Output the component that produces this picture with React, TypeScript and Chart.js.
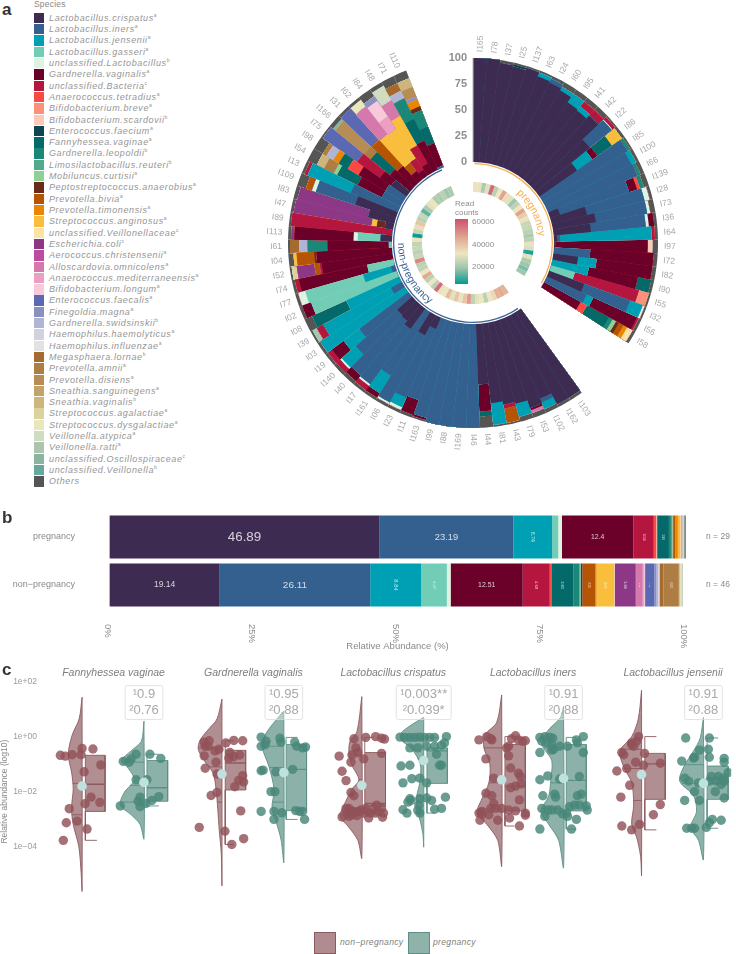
import React, { useEffect, useRef } from "react";
import { Chart, registerables } from "chart.js";

Chart.register(...registerables);

const FONT = '"Liberation Sans", Arial, sans-serif';

// ---------- species ----------
const speciesNames = [
  "Lactobacillus.crispatus", "Lactobacillus.iners", "Lactobacillus.jensenii", "Lactobacillus.gasseri", "unclassified.Lactobacillus",
  "Gardnerella.vaginalis", "unclassified.Bacteria", "Anaerococcus.tetradius", "Bifidobacterium.breve", "Bifidobacterium.scardovii",
  "Enterococcus.faecium", "Fannyhessea.vaginae", "Gardnerella.leopoldii", "Limosilactobacillus.reuteri", "Mobiluncus.curtisii",
  "Peptostreptococcus.anaerobius", "Prevotella.bivia", "Prevotella.timonensis", "Streptococcus.anginosus", "unclassified.Veillonellaceae",
  "Escherichia.coli", "Aerococcus.christensenii", "Alloscardovia.omnicolens", "Anaerococcus.mediterraneensis", "Bifidobacterium.longum",
  "Enterococcus.faecalis", "Finegoldia.magna", "Gardnerella.swidsinskii", "Haemophilus.haemolyticus", "Haemophilus.influenzae",
  "Megasphaera.lornae", "Prevotella.amnii", "Prevotella.disiens", "Sneathia.sanguinegens", "Sneathia.vaginalis",
  "Streptococcus.agalactiae", "Streptococcus.dysgalactiae", "Veillonella.atypica", "Veillonella.ratti", "unclassified.Oscillospiraceae",
  "unclassified.Veillonella", "Others",
];
const speciesMarks = ["a", "a", "a", "a", "b", "a", "c", "a", "a", "b", "a", "a", "b", "b", "a", "a", "a", "a", "a", "c", "c", "a", "a", "a", "a", "a", "a", "b", "a", "a", "b", "a", "a", "a", "b", "a", "a", "a", "a", "c", "b", ""];
const speciesColors = [
  "#3d2b52", "#34608f", "#00a0b4", "#72cdb6", "#dff3e3", "#6b0029", "#b5163f", "#f84a42", "#fb917b", "#fdc9b8",
  "#0f4452", "#036969", "#1a8778", "#51ab8a", "#8fd094", "#6a2a1a", "#b55503", "#ea8505", "#f9bf3c", "#fde4a6",
  "#8c3886", "#bc4c9f", "#d579ad", "#ed9fc2", "#f6cadb", "#5a69b1", "#8b90c0", "#b1b4d4", "#d1d2e0", "#e2e2e4",
  "#a46a2e", "#ae7d43", "#b88c55", "#c2a36a", "#cdb67c", "#ddd29e", "#e9e8bb", "#cfdcc1", "#adc5ae", "#8ab49f",
  "#64a99c", "#555555",
];

// ---------- panel a ----------
const pregnancySamples = ["I165", "I78", "I37", "I25", "I137", "I63", "I24", "I60", "I95", "I41", "I42", "I22", "I86", "I85", "I100", "I66", "I139", "I28", "I73", "I36", "I64", "I97", "I72", "I82", "I90", "I55", "I32", "I56", "I58"];
const nonPregnancySamples = ["I103", "I162", "I102", "I53", "I79", "I43", "I81", "I44", "I46", "I169", "I88", "I99", "I163", "I11", "I23", "I06", "I161", "I17", "I40", "I140", "I19", "I03", "I39", "I08", "I02", "I77", "I74", "I52", "I04", "I61", "I113", "I89", "I47", "I83", "I109", "I13", "I54", "I98", "I75", "I166", "I31", "I62", "I84", "I48", "I71", "I110"];
// each sample: species index, percentage, species index, percentage ...
const pregnancyStacks = [
  [0, 100], [0, 100], [0, 97, 41, 3], [0, 96, 10, 2, 41, 2], [0, 98, 41, 2], [0, 94, 2, 4, 41, 2], [0, 93, 1, 4, 41, 3],
  [0, 91, 2, 4, 41, 5], [0, 85, 2, 10, 41, 5], [0, 84, 2, 5, 6, 6, 41, 5], [0, 88, 6, 7, 41, 5], [0, 67, 1, 27, 4, 1, 6, 3, 41, 2],
  [0, 44, 2, 18, 5, 6, 11, 17, 18, 12, 41, 3], [1, 95, 12, 3, 41, 2], [1, 92, 2, 5, 41, 3], [1, 93, 12, 3, 41, 4],
  [0, 10, 1, 70, 5, 8, 7, 3, 12, 4, 41, 5], [0, 35, 1, 57, 4, 5, 41, 3], [0, 42, 1, 50, 4, 3, 41, 5], [0, 36, 1, 53, 4, 3, 5, 5, 41, 3],
  [0, 3, 1, 3, 2, 88, 6, 3, 41, 3], [0, 1, 5, 89, 9, 5, 41, 5], [1, 35, 5, 61, 41, 4], [0, 24, 2, 18, 5, 54, 41, 4],
  [2, 36, 5, 48, 11, 13, 41, 3], [3, 24, 6, 64, 8, 10, 41, 2], [0, 36, 1, 47, 2, 13, 4, 2, 41, 2], [1, 42, 2, 7, 5, 46, 6, 2, 41, 3],
  [5, 40, 7, 7, 11, 24, 12, 4, 14, 4, 15, 3, 16, 5, 17, 4, 19, 6, 41, 3],
];
const nonPregnancyStacks = [
  [0, 97, 41, 3], [0, 97, 41, 3], [0, 85, 1, 4, 2, 7, 41, 4], [0, 90, 5, 2, 22, 3, 41, 5], [0, 82, 2, 13, 41, 5], [0, 80, 6, 4, 16, 14, 41, 2],
  [0, 77, 2, 21, 41, 2], [0, 58, 5, 26, 11, 5, 41, 11], [1, 100], [1, 100], [1, 100], [1, 100], [1, 96, 5, 2, 41, 2], [1, 82, 5, 15, 41, 3],
  [0, 12, 1, 72, 2, 10, 4, 3, 41, 3], [0, 22, 1, 73, 4, 2, 41, 3], [1, 72, 2, 20, 5, 5, 41, 3], [0, 24, 1, 66, 4, 2, 6, 5, 41, 3],
  [0, 20, 1, 69, 5, 7, 41, 4], [0, 19, 1, 53, 2, 18, 4, 2, 6, 5, 41, 3], [1, 59, 2, 19, 5, 14, 6, 5, 41, 3], [2, 97, 41, 3],
  [1, 12, 2, 74, 6, 7, 38, 5, 41, 2], [2, 56, 11, 36, 41, 8], [3, 88, 5, 9, 41, 3], [1, 4, 2, 28, 3, 58, 4, 7, 41, 3], [3, 26, 5, 67, 6, 4, 41, 3],
  [5, 69, 6, 2, 16, 5, 20, 17, 35, 5, 41, 2], [5, 73, 15, 2, 16, 17, 18, 3, 41, 5], [3, 3, 5, 59, 12, 19, 27, 8, 30, 9, 41, 2],
  [0, 11, 3, 22, 4, 4, 5, 57, 20, 3, 41, 3], [6, 98, 41, 2], [0, 8, 15, 8, 18, 5, 20, 76, 41, 3], [0, 26, 20, 70, 41, 4],
  [0, 41, 1, 40, 4, 4, 16, 6, 41, 9], [1, 49, 2, 45, 6, 3, 41, 3], [1, 20, 5, 26, 11, 22, 14, 4, 31, 10, 34, 8, 41, 10],
  [1, 20, 5, 30, 7, 12, 11, 10, 17, 6, 27, 8, 31, 4, 41, 10], [0, 18, 5, 13, 6, 27, 25, 40, 41, 2], [5, 25, 11, 24, 31, 8, 32, 36, 39, 3, 41, 4],
  [5, 22, 16, 34, 25, 41, 41, 3], [5, 10, 16, 10, 18, 35, 22, 34, 36, 8, 41, 3], [5, 7, 6, 13, 18, 34, 23, 15, 24, 18, 26, 5, 41, 8],
  [5, 10, 6, 20, 18, 33, 22, 17, 37, 16, 41, 4], [5, 31, 11, 23, 12, 22, 27, 8, 30, 8, 41, 8],
  [1, 2, 5, 23, 11, 17, 12, 17, 15, 4, 17, 7, 26, 3, 32, 10, 34, 9, 41, 8],
];
const gapSlots = 5;
const pregnancyReads = [33, 31, 22, 30, 57, 24, 32, 47, 34, 30, 20, 25, 32, 47, 38, 33, 26, 26, 24, 22, 24, 31, 29, 8, 30, 22, 20, 17, 20];
const nonPregnancyReads = [44, 46, 45, 35, 32, 24, 32, 30, 25, 49, 40, 31, 40, 30, 42, 32, 31, 57, 24, 32, 24, 46, 32, 25, 24, 52, 26, 24, 26, 25, 33, 6, 26, 34, 40, 24, 26, 14, 22, 30, 33, 22, 22, 24, 20, 22];
const groupArcDegrees = [1, 119.5, 25, 191.5, 23];
const radialTicks = [0, 25, 50, 75, 100];
const readStops = [5, 20, 32, 46, 62];
const readStopColors = [[0, 154, 148], [160, 198, 172], [238, 230, 192], [225, 170, 145], [205, 80, 110]];

// ---------- panel b ----------
const barCategories = ["pregnancy", "non\u2212pregnancy"];
const barCounts = ["n = 29", "n = 46"];
const barAxisTicks = [0, 25, 50, 75, 100];
const pregnancyShares = [46.89, 23.19, 6.74, 1.06, 0.65, 12.4, 3.53, 0.4, 0.1, 0.05, 0.1, 1.98, 0.35, 0.2, 0.1, 0.1, 0.35, 0.45, 0.4, 0.1, 0.05, 0.03, 0.03, 0.03, 0.03, 0.03, 0.03, 0.03, 0.02, 0.02, 0.03, 0.03, 0.03, 0.03, 0.03, 0.03, 0.03, 0.03, 0.03, 0.03, 0.03, 0.7];
const nonPregnancyShares = [19.14, 26.11, 8.84, 4.47, 0.65, 12.51, 4.69, 0.25, 0, 0, 0.05, 3.83, 1, 0.2, 0.05, 0.3, 2.25, 0.2, 3.02, 0.1, 3.68, 0.05, 1.16, 0.2, 0.2, 1.64, 0.35, 0.25, 0.15, 0.1, 0.7, 2.67, 0, 0.1, 0.1, 0.1, 0.1, 0.15, 0.1, 0.05, 0, 0];

// ---------- panel c ----------
const facetTitles = ["Fannyhessea vaginae", "Gardnerella vaginalis", "Lactobacillus crispatus", "Lactobacillus iners", "Lactobacillus jensenii"];
const firstPValues = ["\u00b90.9", "\u00b90.95", "\u00b90.003**", "\u00b90.91", "\u00b90.91"];
const secondPValues = ["\u00b20.76", "\u00b20.88", "\u00b20.039*", "\u00b20.88", "\u00b20.88"];
const logTicks = [[2, "1e+02"], [0, "1e+00"], [-2, "1e\u221202"], [-4, "1e\u221204"]];

// violin: log10 abundance, half width ...
const fannyNonViolin = [1.43, 0, 0.64, 3, 0.06, 10, -0.64, 14, -1.33, 10.5, -1.91, 9, -2.61, 10.7, -3.19, 9, -4, 3.3, -4.93, 1, -5.6, 0];
const fannyPregViolin = [0.56, 0, -0.17, 2.7, -0.52, 13, -0.87, 23, -1.1, 17, -1.57, 10, -2.03, 20, -2.49, 24, -2.84, 13, -3.19, 4, -3.71, 0];
const gardNonViolin = [1.36, 0, 0.64, 5, 0.29, 13, -0.12, 22, -0.46, 24, -0.87, 18, -1.33, 9, -1.91, 6, -2.61, 4.3, -3.42, 2.7, -4.23, 0.7, -5.39, 0];
const gardPregViolin = [0.93, 0, 0.64, 7, 0.12, 18, -0.35, 22, -1.1, 15, -1.91, 10, -2.61, 12, -3.07, 8, -3.77, 2.7, -4.56, 0];
const crisNonViolin = [1.45, 0, 0.17, 5, -0.17, 12, -0.64, 13, -1.04, 10, -1.57, 3, -1.91, 10, -2.49, 18, -2.9, 22, -3.3, 13, -3.77, 4, -4.41, 0];
const crisPregViolin = [0.7, 0, 0.41, 13, 0.12, 23, -0.12, 23, -0.41, 13, -0.99, 3.5, -1.68, 4, -2.15, 7, -2.61, 7, -3.07, 3.5, -3.54, 0.8, -4, 0];
const inerNonViolin = [1.51, 0, 0.52, 5, 0.06, 17, -0.41, 18, -0.99, 12, -1.68, 13, -2.26, 20, -2.78, 25, -3.19, 15, -3.77, 4, -4.7, 0];
const inerPregViolin = [1.1, 0, 0.7, 3, 0.17, 17, -0.29, 22, -0.87, 12, -1.57, 13, -2.15, 15, -2.72, 23, -3.19, 15, -3.77, 5, -4.75, 0];
const jensNonViolin = [1.68, 0, 0.64, 3.3, 0, 10, -0.52, 22, -1.1, 18, -1.68, 10, -2.49, 8, -3.19, 10, -3.65, 5, -4.35, 1, -5.04, 0];
const jensPregViolin = [0.7, 0, -0.06, 3.3, -0.52, 10, -1.1, 20, -1.62, 24, -2.15, 10, -2.72, 7, -3.3, 13, -3.77, 5, -4.46, 0];

// box: left, right, q1, median, q3, low, high, low cap, high cap
const fannyNonBox = [3.3, 23.3, -2.72, -1.73, -0.68, -3.77, -0.68, 15, 3.3];
const fannyPregBox = [3, 24, -2.35, -1.86, -0.87, -2.52, -0.64, 15, 15];
const gardNonBox = [3.3, 24, -1.94, -0.96, -0.5, -3.92, -0.15, 12, 12];
const gardPregBox = [2.3, 23, -2.69, -1.19, -0.29, -3.01, -0.03, 14, 14];
const crisNonBox = [3, 24, -2.53, -2.43, -0.58, -2.78, -0.03, 12, 12];
const crisPregBox = [3.3, 24, -1.7, -0.52, -0.41, -2.78, -0.03, 11, 14];
const inerNonBox = [3.3, 24, -2.7, -1.8, -0.29, -3.25, 0, 13, 13];
const inerPregBox = [2.7, 23, -2.7, -1.59, -0.29, -3.36, -0.03, 13, 13];
const jensNonBox = [3.3, 24, -2.28, -0.99, -0.61, -3.39, 0, 15, 15];
const jensPregBox = [3.7, 25, -2.28, -1.7, -1.07, -3.33, -0.05, 15, 15];

const fannyNonQuant = [-1.7, -2.84];
const fannyPregQuant = [-0.93, -1.77, -2.38];
const gardNonQuant = [-0.41, -1.1, -2.38];
const gardPregQuant = [-0.35, -1.12, -2.38];
const crisNonQuant = [-0.64, -1.57, -2.72];
const crisPregQuant = [-0.08, -0.81, -2.15];
const inerNonQuant = [-0.41, -1.68, -2.63];
const inerPregQuant = [-0.41, -1.68, -2.61];
const jensNonQuant = [-0.46, -1.16, -2.32];
const jensPregQuant = [-1.02, -1.7, -2.38];

const groupMeans = [-1.8, -1.66, -1.36, -1.31, -1.77, -0.87, -1.57, -1.52, -1.38, -1.7];

// points: jitter, log10 abundance ...
const fannyNonPoints = [0, -0.43, 11, -0.45, -22, -0.68, -17, -0.71, -10, -0.66, -1, -0.66, 19, -1.03, 2, -1.28, 9, -2.2, 3, -2.44, 18, -2.39, -13, -2.62, -5, -3.07, -16, -3.13, 5, -3.36, -19, -3.77];
const fannyPregPoints = [-21, -0.9, -15, -0.93, -13, -0.81, -8, -0.64, 6, -0.64, 17, -0.79, -8, -1.57, 3, -1.57, -4, -2.2, 15, -2.18, 8, -2.32, -6, -2.35, 2, -2.43, -4, -2.55, -24, -2.52];
const gardNonPoints = [-18, -0.2, -13, -0.15, 4, -0.23, 12, -0.14, 21, -0.15, -17, -0.35, -14, -0.35, -3, -0.46, -7, -0.52, -18, -0.7, 8, -0.58, 12, -0.73, 18, -0.67, 7, -0.78, -6, -0.93, -17, -1.15, -5, -1.36, 21, -1.42, 17, -1.59, 22, -1.65, 13, -1.82, -5, -2.03, -11, -2.14, 19, -2.7, -23, -3.3, 3, -3.44, 10, -3.92, 22, -3.71];
const gardPregPoints = [-23, -0.02, -4, -0.06, -18, -0.17, -23, -0.35, -19, -0.29, 11, -0.2, 13, -0.35, 19, -0.41, 22, -0.38, -3, -0.2, -21, -1.22, -23, -1.24, -8, -1.28, 9, -1.19, -13, -2, -9, -2, -23, -2.72, -10, -2.72, -2, -2.77, 12, -2.69, 19, -2.72, -10, -3.01, 21, -3.01, 16, -2.72];
const crisNonPoints = [-8, -0.08, 4, -0.03, 14, 0, 20, -0.06, 23, -0.09, -6, -0.41, -4, -0.58, -10, -0.67, -23, -0.71, 2, -0.81, 20, -0.61, -11, -0.93, -20, -1.26, -16, -1.6, -11, -2.03, -8, -2.15, -16, -2.61, -13, -2.61, -10, -2.72, -3, -2.72, 5, -2.72, 12, -2.61, 20, -2.61, 22, -2.78, -20, -2.92, -13, -2.9, -5, -2.87, 7, -2.96, 15, -2.49, 21, -2.93, -15, -2.78, -1, -2.67, 9, -2.78, 2, -2.78, 4, -2.61, -8, -2.72, -10, -2.84, 14, -2.78, 17, -2.72];
const crisPregPoints = [-24, -0.02, -19, -0.03, -14, -0.03, -9, -0.03, -4, -0.02, 1, -0.03, 6, -0.03, 11, -0.03, 23, 0, 21, -0.23, 18, -0.32, 11, -0.35, -14, -0.41, -6, -0.41, 3, -0.35, 13, -0.64, 16, -1.04, 18, -1.04, -23, -1.07, -14, -1.04, -21, -1.68, -12, -1.53, -4, -1.51, 3, -1.68, -14, -2.26, -16, -2.38, -4, -2.26, 3, -2.23, 8, -2.32, 22, -2.2, 11, -2.64, 18, -2.61, -21, -2.66, -17, -2.78, -5, -2.49, -4, -2.78, -6, -2.68, -13, -2.32];
const inerNonPoints = [-23, -0.12, -15, 0, -11, -0.08, -10, -0.12, 14, 0.03, 10, -0.08, 24, -0.15, 21, -0.17, 17, -0.12, 7, -0.35, 5, -0.41, -16, -0.81, 7, -0.7, 9, -1.14, 17, -1.33, 19, -1.45, -8, -1.51, 14, -1.8, 20, -1.72, 9, -1.86, -16, -2.06, -10, -2.15, 18, -2.3, -8, -2.43, -11, -2.61, -23, -2.78, -20, -2.72, -6, -2.61, 0, -2.61, 7, -2.67, 14, -2.7, 24, -2.78, 24, -2.86, -22, -3.04, -4, -3.04, 8, -2.96, 18, -3.25, -13, -2.84, -20, -2.81];
const inerPregPoints = [-24, -0.03, -19, 0, -14, -0.02, -11, -0.06, -22, -0.17, -17, -0.23, -12, -0.29, -10, -0.46, -12, -0.49, -24, -0.58, -4, -0.35, 4, -0.35, 13, -0.12, 20, 0, 14, -0.23, 20, -0.58, -24, -1.57, -16, -1.43, -4, -1.54, 16, -1.45, -21, -2.15, -9, -2.09, -8, -2.2, 14, -2.15, 18, -2.09, 11, -2.49, 6, -2.55, 16, -2.49, 23, -2.52, 24, -2.67, -19, -2.9, -12, -2.67, -6, -2.67, -1, -2.81, 4, -2.9, 13, -3.01, -24, -3.36, 8, -3.36, -16, -2.67, -22, -2.61, 3, -2.78];
const jensNonPoints = [-3, 0, -5, -0.17, -10, -0.23, -20, -0.58, -18, -0.66, 3, -0.61, -6, -0.93, -10, -0.29, -25, -1.25, -15, -1.16, 2, -1.04, 19, -0.97, -12, -1.77, -21, -2.2, 19, -2.47, 12, -2.84, -20, -3.25, -10, -3.39, -2, -3.19, -8, -0.35];
const jensPregPoints = [-18, -0.05, 6, -0.05, -4, -0.49, 5, -0.46, -9, -0.75, 6, -0.75, -22, -0.89, 21, -0.79, 21, -0.93, -10, -0.78, -19, -1.51, -15, -1.62, 8, -1.45, 15, -1.45, 25, -1.31, 20, -1.51, 18, -1.74, -9, -2, 12, -2, 21, -2.23, -19, -2.32, -4, -2.32, 9, -3.01, 18, -3.04, -17, -3.33, -9, -3.33, 3, -3.3, -12, -3.33, 6, -3.13, -5, -1.68, 6, -1.62, 13, -1.62, 21, -1.62];

const violinTable = [fannyNonViolin, fannyPregViolin, gardNonViolin, gardPregViolin, crisNonViolin, crisPregViolin, inerNonViolin, inerPregViolin, jensNonViolin, jensPregViolin];
const boxTable = [fannyNonBox, fannyPregBox, gardNonBox, gardPregBox, crisNonBox, crisPregBox, inerNonBox, inerPregBox, jensNonBox, jensPregBox];
const quantTable = [fannyNonQuant, fannyPregQuant, gardNonQuant, gardPregQuant, crisNonQuant, crisPregQuant, inerNonQuant, inerPregQuant, jensNonQuant, jensPregQuant];
const pointTable = [fannyNonPoints, fannyPregPoints, gardNonPoints, gardPregPoints, crisNonPoints, crisPregPoints, inerNonPoints, inerPregPoints, jensNonPoints, jensPregPoints];

const rainFill = ["rgba(140,88,94,0.68)", "rgba(86,140,128,0.68)"];
const rainLine = ["#8c5a5f", "#5b9085"];
const rainPoint = ["rgba(145,82,88,0.82)", "rgba(72,136,122,0.82)"];
const meanColor = "#bfe2df";
const pxPerFacet = 141.7;
const groupShift = 0.4425;

function chunks(list: number[]) {
  const out: number[][] = [];
  for (let i = 0; i < list.length; i += 2) out.push([list[i], list[i + 1]]);
  return out;
}

function readColor(v: number) {
  let i = 0;
  while (i < readStops.length - 2 && v > readStops[i + 1]) i++;
  const t = Math.max(0, Math.min(1, (v - readStops[i]) / (readStops[i + 1] - readStops[i])));
  const c = readStopColors[i].map((a, k) => Math.round(a + (readStopColors[i + 1][k] - a) * t));
  return `rgb(${c[0]},${c[1]},${c[2]})`;
}

function curvedText(ctx: any, cx: number, cy: number, text: string, r: number, startDeg: number, dir: number, color: string) {
  ctx.save();
  ctx.fillStyle = color;
  ctx.textAlign = "center";
  ctx.textBaseline = "alphabetic";
  let a = (startDeg * Math.PI) / 180;
  for (const ch of text) {
    const w = ctx.measureText(ch).width;
    const step = ((w + 0.1) / r) * dir;
    const mid = a + step / 2;
    ctx.save();
    ctx.translate(cx + r * Math.sin(mid), cy - r * Math.cos(mid));
    ctx.rotate(dir > 0 ? mid : mid + Math.PI);
    ctx.fillText(ch, 0, 0);
    ctx.restore();
    a += step;
  }
  ctx.restore();
}

function buildPolar(canvas: HTMLCanvasElement) {
  const gap = () => Array(gapSlots).fill(null);
  const stacks = [...pregnancyStacks, ...gap(), ...nonPregnancyStacks, ...gap()];
  const labels = [...pregnancySamples, ...gap().map(() => ""), ...nonPregnancySamples, ...gap().map(() => "")];
  const floor = -78;
  const layers = speciesNames.map((_, sp) => ({
    label: speciesNames[sp],
    backgroundColor: speciesColors[sp],
    borderWidth: 0,
    data: stacks.map((s) => {
      if (!s) return floor;
      const pairs = chunks(s);
      const total = pairs.reduce((a, p) => a + p[1], 0);
      return (pairs.filter((p) => p[0] <= sp).reduce((a, p) => a + p[1], 0) / total) * 100;
    }),
  }));
  const textPlugin = {
    id: "polarText",
    afterDatasetsDraw(chart: any) {
      const { ctx } = chart;
      const r = chart.scales.r;
      const cx = r.xCenter;
      const cy = r.yCenter;
      ctx.save();
      // the bars start at value 0: everything under it is the empty centre of the plot
      ctx.fillStyle = "#ffffff";
      ctx.beginPath();
      ctx.arc(cx, cy, r.getDistanceFromCenterForValue(0), 0, 2 * Math.PI);
      ctx.fill();
      ctx.strokeStyle = "#b5b5b5";
      ctx.lineWidth = 1;
      ctx.beginPath();
      ctx.moveTo(cx, cy - r.getDistanceFromCenterForValue(0));
      ctx.lineTo(cx, cy - r.getDistanceFromCenterForValue(100));
      ctx.stroke();
      ctx.fillStyle = "#8e8e8e";
      ctx.font = `bold 11px ${FONT}`;
      ctx.textAlign = "right";
      ctx.textBaseline = "middle";
      radialTicks.forEach((t) => ctx.fillText(String(t), cx - 6, cy - r.getDistanceFromCenterForValue(t)));
      ctx.font = `8.5px ${FONT}`;
      ctx.fillStyle = "#a8a8a8";
      const slot = (2 * Math.PI) / labels.length;
      labels.forEach((lab, i) => {
        if (!lab) return;
        const th = (i + 0.5) * slot;
        const R = r.getDistanceFromCenterForValue(100) + 6;
        ctx.save();
        ctx.translate(cx + R * Math.sin(th), cy - R * Math.cos(th));
        if (th <= Math.PI + 0.02) {
          ctx.rotate(th - Math.PI / 2);
          ctx.textAlign = "left";
        } else {
          ctx.rotate(th + Math.PI / 2);
          ctx.textAlign = "right";
        }
        ctx.fillText(lab, 0, 0);
        ctx.restore();
      });
      ctx.restore();
    },
  };
  return new Chart(canvas, {
    type: "polarArea",
    data: { labels, datasets: layers as any },
    options: {
      animation: false,
      responsive: false,
      events: [],
      layout: { padding: 45 },
      plugins: { legend: { display: false }, tooltip: { enabled: false } },
      scales: { r: { min: floor, max: 100, display: false, ticks: { display: false }, grid: { display: false } } },
    } as any,
    plugins: [textPlugin],
  });
}

function buildRings(canvas: HTMLCanvasElement) {
  const gapColors = Array(gapSlots).fill("rgba(0,0,0,0)");
  const readColors = [...pregnancyReads.map(readColor), ...gapColors, ...nonPregnancyReads.map(readColor), ...gapColors];
  const textPlugin = {
    id: "ringText",
    afterDraw(chart: any) {
      const { ctx, width, height } = chart;
      ctx.save();
      ctx.font = `10.5px ${FONT}`;
      curvedText(ctx, width / 2, height / 2, "pregnancy", 66, 41, 1, "#f5ae50");
      curvedText(ctx, width / 2, height / 2, "non-pregnancy", 75, 270, -1, "#3b6596");
      ctx.restore();
    },
  };
  return new Chart(canvas, {
    type: "doughnut",
    data: {
      labels: readColors.map((_, i) => String(i)),
      datasets: [
        { data: groupArcDegrees, backgroundColor: ["rgba(0,0,0,0)", "#f5ae50", "rgba(0,0,0,0)", "#3b6596", "rgba(0,0,0,0)"], borderWidth: 0, weight: 1.3 },
        { data: [1], backgroundColor: ["rgba(0,0,0,0)"], borderWidth: 0, weight: 17.7 },
        { data: readColors.map(() => 1), backgroundColor: readColors, borderWidth: 0, weight: 10 },
      ],
    } as any,
    options: {
      animation: false,
      responsive: false,
      events: [],
      cutout: "63.75%",
      plugins: { legend: { display: false }, tooltip: { enabled: false } },
    } as any,
    plugins: [textPlugin],
  });
}

function buildBars(canvas: HTMLCanvasElement) {
  const textPlugin = {
    id: "barText",
    afterDatasetsDraw(chart: any) {
      const { ctx, scales } = chart;
      ctx.save();
      ctx.textBaseline = "middle";
      chart.data.datasets.forEach((ds: any, d: number) => {
        const meta = chart.getDatasetMeta(d);
        ds.data.forEach((v: number, i: number) => {
          if (v < 1.1) return;
          const bar = meta.data[i];
          const size = 1.95 * Math.sqrt(v);
          ctx.save();
          ctx.translate((bar.x + bar.base) / 2, bar.y);
          if (v < 10) ctx.rotate(Math.PI / 2);
          ctx.textAlign = "center";
          ctx.fillStyle = "rgba(255,255,255,0.78)";
          ctx.font = `${size}px ${FONT}`;
          ctx.fillText(String(v), 0, 0);
          ctx.restore();
        });
      });
      ctx.fillStyle = "#8a8a8a";
      ctx.font = `9px ${FONT}`;
      barCategories.forEach((c, i) => {
        const y = scales.y.getPixelForValue(i);
        ctx.textAlign = "right";
        ctx.fillText(c, 75, y);
        ctx.textAlign = "left";
        ctx.font = `8.5px ${FONT}`;
        ctx.fillText(barCounts[i], 706, y);
        ctx.font = `9px ${FONT}`;
      });
      const tickTop = scales.y.bottom + 15;
      ctx.font = `9.5px ${FONT}`;
      barAxisTicks.forEach((t) => {
        ctx.save();
        ctx.translate(scales.x.getPixelForValue(t) - 2, tickTop);
        ctx.rotate(Math.PI / 2);
        ctx.textAlign = "left";
        ctx.fillText(`${t}%`, 0, 0);
        ctx.restore();
      });
      ctx.font = `9.5px ${FONT}`;
      ctx.textAlign = "center";
      ctx.fillText("Relative Abundance (%)", (scales.x.left + scales.x.right) / 2, scales.y.bottom + 37);
      ctx.restore();
    },
  };
  return new Chart(canvas, {
    type: "bar",
    data: {
      labels: barCategories,
      datasets: speciesNames.map((n, sp) => ({
        label: n,
        data: [pregnancyShares[sp], nonPregnancyShares[sp]],
        backgroundColor: speciesColors[sp],
        borderWidth: 0,
        barPercentage: 0.9,
        categoryPercentage: 1,
      })),
    },
    options: {
      animation: false,
      responsive: false,
      events: [],
      indexAxis: "y",
      layout: { padding: { left: 109.4, right: 50.3, top: 3, bottom: 46 } },
      plugins: { legend: { display: false }, tooltip: { enabled: false } },
      scales: {
        x: { stacked: true, min: 0, max: 100, display: false },
        y: { stacked: true, display: false },
      },
    } as any,
    plugins: [textPlugin],
  });
}

function buildRain(canvas: HTMLCanvasElement) {
  const sets: any[] = [];
  const line = (points: any[], color: string, width = 0.9) => ({
    data: points, showLine: true, fill: false, borderColor: color, borderWidth: width, pointRadius: 0, tension: 0, backgroundColor: color,
  });
  violinTable.forEach((violin, g) => {
    const facet = Math.floor(g / 2);
    const kind = g % 2;
    const center = facet + kind * groupShift;
    const at = (dx: number, log: number) => ({ x: center + dx / pxPerFacet, y: Math.pow(10, log) });
    const outline = chunks(violin);
    const widthAt = (log: number) => {
      for (let i = 0; i < outline.length - 1; i++) {
        const [a, wa] = outline[i];
        const [b, wb] = outline[i + 1];
        if (log <= a && log >= b) return wa + ((wb - wa) * (a - log)) / (a - b);
      }
      return 0;
    };
    const vPts = outline.map(([log, w]) => at(-w, log));
    vPts.push(at(0, outline[0][0]));
    sets.push({
      data: vPts, showLine: true, fill: "shape", backgroundColor: rainFill[kind], borderColor: rainLine[kind], borderWidth: 0.9, pointRadius: 0, tension: 0.3,
    });
    quantTable[g].forEach((q) => sets.push(line([at(-widthAt(q), q), at(0, q)], rainLine[kind])));
    const [l, r, q1, med, q3, low, high, capLow, capHigh] = boxTable[g];
    sets.push({
      data: [at(l, q3), at(r, q3), at(r, q1), at(l, q1), at(l, q3)], showLine: true, fill: "shape", backgroundColor: rainFill[kind], borderColor: rainLine[kind], borderWidth: 0.9, pointRadius: 0, tension: 0,
    });
    sets.push(line([at(l, med), at(r, med)], rainLine[kind], 1.4));
    sets.push(line([at(l, q1), at(l, low), at(capLow, low)], rainLine[kind]));
    sets.push(line([at(l, q3), at(l, high), at(capHigh, high)], rainLine[kind]));
    sets.push({
      data: chunks(pointTable[g]).map(([dx, log]) => at(dx, log)), showLine: false, pointRadius: 4.7, pointBackgroundColor: rainPoint[kind], pointBorderWidth: 0,
    });
    sets.push({ data: [at(0, groupMeans[g])], showLine: false, pointRadius: 4.8, pointBackgroundColor: meanColor, pointBorderWidth: 0 });
  });
  const textPlugin = {
    id: "rainText",
    afterDatasetsDraw(chart: any) {
      const { ctx, scales } = chart;
      const top = scales.y.getPixelForValue(100);
      ctx.save();
      facetTitles.forEach((t, f) => {
        ctx.fillStyle = "#7d7d7d";
        ctx.font = `italic 10.5px ${FONT}`;
        ctx.textAlign = "center";
        ctx.textBaseline = "middle";
        ctx.fillText(t, scales.x.getPixelForValue(f + groupShift / 2) + 0.5, top - 8);
        const cx = scales.x.getPixelForValue(f + groupShift);
        ctx.font = `13px ${FONT}`;
        const w = Math.max(ctx.measureText(firstPValues[f]).width, ctx.measureText(secondPValues[f]).width) + 8;
        ctx.beginPath();
        ctx.roundRect(cx - w / 2, top + 4, w, 34, 2);
        ctx.fillStyle = "rgba(255,255,255,0.35)";
        ctx.fill();
        ctx.strokeStyle = "#dcdcdc";
        ctx.lineWidth = 0.8;
        ctx.stroke();
        ctx.fillStyle = "#a8a8a8";
        ctx.fillText(firstPValues[f], cx, top + 13);
        ctx.fillText(secondPValues[f], cx, top + 29);
      });
      ctx.fillStyle = "#9a9a9a";
      ctx.font = `8.5px ${FONT}`;
      ctx.textAlign = "right";
      ctx.textBaseline = "middle";
      logTicks.forEach(([log, text]) => ctx.fillText(text, 37, scales.y.getPixelForValue(Math.pow(10, log as number))));
      ctx.save();
      ctx.translate(4.5, scales.y.getPixelForValue(0.01));
      ctx.rotate(-Math.PI / 2);
      ctx.textAlign = "center";
      ctx.fillStyle = "#8a8a8a";
      ctx.fillText("Relative abundance (log10)", 0, 0);
      ctx.restore();
      ctx.restore();
    },
  };
  return new Chart(canvas, {
    type: "scatter",
    data: { datasets: sets.reverse() },
    options: {
      animation: false,
      responsive: false,
      events: [],
      plugins: { legend: { display: false }, tooltip: { enabled: false } },
      layout: { padding: 0 },
      scales: {
        x: { type: "linear", min: -0.5526, max: 4.641, display: false },
        y: { type: "logarithmic", bounds: "data", min: Math.pow(10, -5.8), max: Math.pow(10, 2.5), display: false },
      },
    } as any,
    plugins: [textPlugin],
  });
}

const abs = (left: number, top: number, extra: any = {}) => ({ position: "absolute", left, top, ...extra });

export default function App() {
  const polarRef = useRef<HTMLCanvasElement>(null);
  const ringRef = useRef<HTMLCanvasElement>(null);
  const barRef = useRef<HTMLCanvasElement>(null);
  const rainRef = useRef<HTMLCanvasElement>(null);

  useEffect(() => {
    const charts = [
      buildPolar(polarRef.current!),
      buildRings(ringRef.current!),
      buildBars(barRef.current!),
      buildRain(rainRef.current!),
    ];
    return () => charts.forEach((c) => c.destroy());
  }, []);

  const rowPitch = 11.305;
  return (
    <div style={{ position: "absolute", left: 0, top: 0, width: 736, height: 954, background: "#fff", overflow: "hidden", fontFamily: FONT } as any}>
      <canvas ref={polarRef} width={460} height={460} style={abs(243, 13) as any} />
      <canvas ref={ringRef} width={160} height={160} style={abs(393, 163) as any} />
      <canvas ref={barRef} width={736} height={145} style={abs(0, 510) as any} />
      <canvas ref={rainRef} width={736} height={238} style={abs(0, 663) as any} />

      <div style={abs(2, 0, { fontSize: 17, fontWeight: "bold", color: "#333", lineHeight: "20px" }) as any}>a</div>
      <div style={abs(2, 508, { fontSize: 17, fontWeight: "bold", color: "#333", lineHeight: "20px" }) as any}>b</div>
      <div style={abs(2, 660, { fontSize: 17, fontWeight: "bold", color: "#333", lineHeight: "20px" }) as any}>c</div>

      <div style={abs(34, 0, { fontSize: 8.5, color: "#888", lineHeight: "9px", letterSpacing: 0.2 }) as any}>Species</div>
      {speciesNames.map((name, i) => (
        <React.Fragment key={name}>
          <div style={abs(34, 12.8 + i * rowPitch, { width: 9.6, height: 10.4, background: speciesColors[i] }) as any} />
          <div style={abs(49, 12.8 + i * rowPitch, { fontSize: 9, fontStyle: "italic", color: "#959595", lineHeight: "10.4px", letterSpacing: 0.62, whiteSpace: "nowrap" }) as any}>
            {name}
            <sup style={{ fontSize: 5, lineHeight: 0, fontStyle: "normal" }}>{speciesMarks[i]}</sup>
          </div>
        </React.Fragment>
      ))}

      <div style={abs(455, 199, { fontSize: 8, color: "#8c8c8c", lineHeight: "9px" }) as any}>Read<br />counts</div>
      <div style={abs(455, 219, {
        width: 12.6, height: 65,
        background: "linear-gradient(to top, #009a94 0%, #a0c6ac 25%, #eee6c0 47%, #e1aa91 70%, #cd506e 100%)",
      }) as any} />
      {[["60000", 222], ["40000", 244.5], ["20000", 266.7]].map(([t, y]) => (
        <div key={t as string} style={abs(472, (y as number) - 5, { fontSize: 8, color: "#8c8c8c", lineHeight: "10px" }) as any}>{t}</div>
      ))}

      <div style={abs(314, 932, { width: 20, height: 20, background: "#b08c90", border: "0.8px solid #8c5a5f" }) as any} />
      <div style={abs(340, 937, { fontSize: 8.6, fontStyle: "italic", color: "#808080", lineHeight: "10px", letterSpacing: 0.3 }) as any}>non{"\u2212"}pregnancy</div>
      <div style={abs(408, 932, { width: 20, height: 20, background: "#8fb3ab", border: "0.8px solid #5b9085" }) as any} />
      <div style={abs(433, 937, { fontSize: 8.6, fontStyle: "italic", color: "#808080", lineHeight: "10px", letterSpacing: 0.3 }) as any}>pregnancy</div>
    </div>
  );
}
